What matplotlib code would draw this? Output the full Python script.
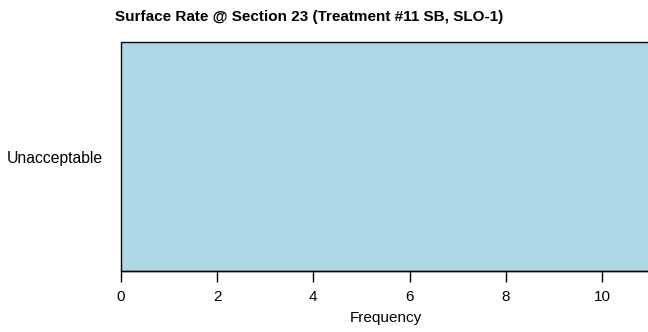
import matplotlib
matplotlib.use("Agg")
import matplotlib.pyplot as plt

categories = ["Unacceptable"]
values = [11]
xticks = [0, 2, 4, 6, 8, 10]
title = "Surface Rate @ Section 23 (Treatment #11 SB, SLO-1)"

plt.rcParams['font.family'] = ['Liberation Sans', 'DejaVu Sans']

W, H = 648, 332
fig = plt.figure(figsize=(W/100, H/100), dpi=100)
left, right, top, bottom = 121, 650, 42, 271
ax = fig.add_axes([left/W, (H-bottom)/H, (right-left)/W, (bottom-top)/H])

ax.barh(range(len(categories)), values, height=1.0, color="#ADD8E6",
        edgecolor="black", linewidth=1.0, clip_on=False, zorder=2)
ax.set_xlim(0, 11)
ax.set_ylim(-0.5, 0.5)
ax.set_yticks(range(len(categories)))
ax.set_yticklabels(categories, fontsize=11.3)
ax.tick_params(axis='y', length=0, pad=13)
ax.set_xticks(xticks)
ax.set_xticklabels([str(t) for t in xticks], fontsize=11)
ax.tick_params(axis='x', length=8, width=1, pad=6)
for s in ["top", "right", "left"]:
    ax.spines[s].set_visible(False)
ax.spines["bottom"].set_linewidth(1.0)
ax.set_xlabel("Frequency", fontsize=11, labelpad=5)

fig.text(309/W, 1 - 17/H, title, ha="center", va="center",
         fontsize=11, fontweight="bold")

fig.savefig("out.png", dpi=100)
